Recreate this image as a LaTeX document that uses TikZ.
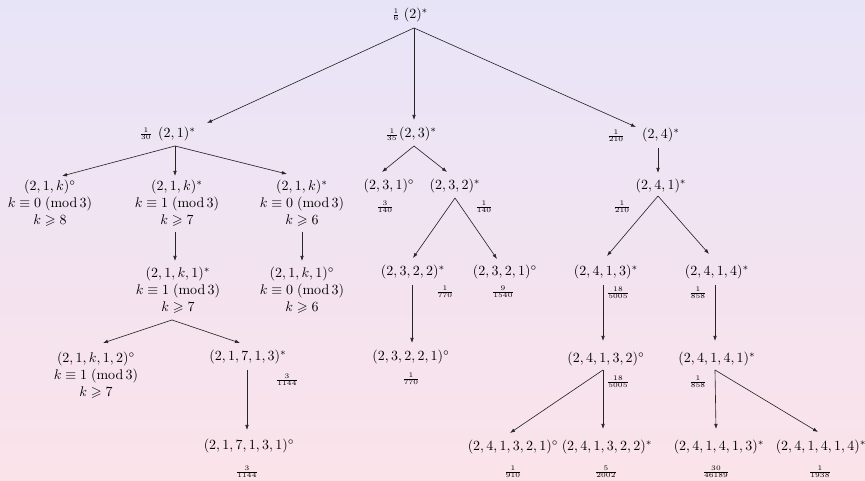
\documentclass[tikz,border=0pt]{standalone}
\usepackage{amsmath,amssymb}
\usetikzlibrary{arrows.meta}
\definecolor{bgtop}{RGB}{232,228,248}
\definecolor{bgbot}{RGB}{251,227,234}
\newcommand{\myfr}[2]{$\scriptstyle\frac{#1}{#2}$}
\newcommand{\md}[1]{\;(\mathrm{mod}\,#1)}
\begin{document}
\begin{tikzpicture}[x=0.714pt,y=-0.714pt,
  tn/.style={inner sep=0pt,align=center},
  fr/.style={inner sep=0pt},
  arr/.style={-{Latex[length=3.6pt,width=2.6pt]},line width=0.45pt,draw=black!85}]
\shade[top color=bgtop,bottom color=bgbot] (0,0) rectangle (865,481);
\useasboundingbox (0,0) rectangle (865,481);
% root
\node[tn] (root) at (416,15) {$(2)^*$};
\node[fr] (froot) at (396,15) {\myfr{1}{6}};
% level 1
\node[tn] (n21) at (177,134) {$(2,1)^*$};
\node[fr] (f21) at (146,134) {\myfr{1}{30}};
\node[tn] (n23) at (418,134) {$(2,3)^*$};
\node[fr] (f23) at (392,135) {\myfr{1}{35}};
\node[tn] (n24) at (661,135) {$(2,4)^*$};
\node[fr] (f24) at (616,136) {\myfr{1}{210}};
% left subtree
\node[tn] (n21ka) at (50,203) {$(2,1,k)^\circ$\\$k\equiv 0\md{3}$\\$k\geqslant 8$};
\node[tn] (n21kb) at (177,203) {$(2,1,k)^*$\\$k\equiv 1\md{3}$\\$k\geqslant 7$};
\node[tn] (n21kc) at (302,203) {$(2,1,k)^*$\\$k\equiv 0\md{3}$\\$k\geqslant 6$};
\node[tn] (n21k1a) at (178,290) {$(2,1,k,1)^*$\\$k\equiv 1\md{3}$\\$k\geqslant 7$};
\node[tn] (n21k1b) at (302,290) {$(2,1,k,1)^\circ$\\$k\equiv 0\md{3}$\\$k\geqslant 6$};
\node[tn] (n21k12) at (96,375) {$(2,1,k,1,2)^\circ$\\$k\equiv 1\md{3}$\\$k\geqslant 7$};
\node[tn] (n21713) at (248,357) {$(2,1,7,1,3)^*$};
\node[fr] (f21713) at (287,380) {\myfr{3}{1144}};
\node[tn] (n217131) at (249,446) {$(2,1,7,1,3,1)^\circ$};
\node[fr] (f217131) at (247,472) {\myfr{3}{1144}};
% middle subtree
\node[tn] (n231) at (389,186) {$(2,3,1)^\circ$};
\node[fr] (f231) at (385,207) {\myfr{3}{140}};
\node[tn] (n232) at (455,186) {$(2,3,2)^*$};
\node[fr] (f232) at (484,207) {\myfr{1}{140}};
\node[tn] (n2322) at (413,272) {$(2,3,2,2)^*$};
\node[fr] (f2322) at (445,292) {\myfr{1}{770}};
\node[tn] (n2321) at (505,272) {$(2,3,2,1)^\circ$};
\node[fr] (f2321) at (503,292) {\myfr{9}{1540}};
\node[tn] (n23221) at (411,357) {$(2,3,2,2,1)^\circ$};
\node[fr] (f23221) at (411,379) {\myfr{1}{770}};
% right subtree
\node[tn] (n241) at (661,186) {$(2,4,1)^*$};
\node[fr] (f241) at (622,207) {\myfr{1}{210}};
\node[tn] (n2413) at (606,272) {$(2,4,1,3)^*$};
\node[fr] (f2413) at (618,293) {\myfr{18}{5005}};
\node[tn] (n2414) at (717,272) {$(2,4,1,4)^*$};
\node[fr] (f2414) at (698,293) {\myfr{1}{858}};
\node[tn] (n24132) at (606,359) {$(2,4,1,3,2)^\circ$};
\node[fr] (f24132) at (618,382) {\myfr{18}{5005}};
\node[tn] (n24141) at (717,359) {$(2,4,1,4,1)^*$};
\node[fr] (f24141) at (698,382) {\myfr{1}{858}};
\node[tn] (n241321) at (513,447) {$(2,4,1,3,2,1)^\circ$};
\node[fr] (f241321) at (513,472) {\myfr{1}{910}};
\node[tn] (n241322) at (607,447) {$(2,4,1,3,2,2)^*$};
\node[fr] (f241322) at (606,472) {\myfr{5}{2002}};
\node[tn] (n241413) at (719,447) {$(2,4,1,4,1,3)^*$};
\node[fr] (f241413) at (716,472) {\myfr{30}{46189}};
\node[tn] (n241414) at (821,447) {$(2,4,1,4,1,4)^*$};
\node[fr] (f241414) at (820,472) {\myfr{1}{1938}};
% connectors
\draw[arr] ([shift={(-2,13)}]root.center) -- ([shift={(30,-11)}]n21.center);
\draw[arr] ([shift={(-2,13)}]root.center) -- ([shift={(-4,-14)}]n23.center);
\draw[arr] ([shift={(-2,13)}]root.center) -- ([shift={(-25,-8)}]n24.center);
\draw[arr] ([shift={(-2,12)}]n21.center) -- ([shift={(12,-27)}]n21ka.center);
\draw[arr] ([shift={(-2,12)}]n21.center) -- ([shift={(-2,-27)}]n21kb.center);
\draw[arr] ([shift={(-2,12)}]n21.center) -- ([shift={(-15,-29)}]n21kc.center);
\draw[arr] ([shift={(-2,29)}]n21kb.center) -- ([shift={(-3,-29)}]n21k1a.center);
\draw[arr] ([shift={(0,29)}]n21kc.center) -- ([shift={(0,-29)}]n21k1b.center);
\draw[arr] ([shift={(-6,30)}]n21k1a.center) -- ([shift={(7,-32)}]n21k12.center);
\draw[arr] ([shift={(-6,30)}]n21k1a.center) -- ([shift={(-8,-14)}]n21713.center);
\draw[arr] ([shift={(-1,13)}]n21713.center) -- ([shift={(-2,-16)}]n217131.center);
\draw[arr] ([shift={(-4,12)}]n23.center) -- ([shift={(-7,-14)}]n231.center);
\draw[arr] ([shift={(-4,12)}]n23.center) -- ([shift={(-8,-14)}]n232.center);
\draw[arr] ([shift={(0,12)}]n232.center) -- ([shift={(0,-14)}]n2322.center);
\draw[arr] ([shift={(0,12)}]n232.center) -- ([shift={(-8,-13)}]n2321.center);
\draw[arr] ([shift={(-1,13)}]n2322.center) -- ([shift={(1,-14)}]n23221.center);
\draw[arr] ([shift={(-3,13)}]n24.center) -- ([shift={(-3,-13)}]n241.center);
\draw[arr] ([shift={(-3,10)}]n241.center) -- ([shift={(1,-16)}]n2413.center);
\draw[arr] ([shift={(-3,10)}]n241.center) -- ([shift={(-8,-18)}]n2414.center);
\draw[arr] ([shift={(-3,13)}]n2413.center) -- ([shift={(-3,-18)}]n24132.center);
\draw[arr] ([shift={(-2,13)}]n2414.center) -- ([shift={(-2,-18)}]n24141.center);
\draw[arr] ([shift={(-3,11)}]n24132.center) -- ([shift={(-3,-14)}]n241321.center);
\draw[arr] ([shift={(-3,11)}]n24132.center) -- ([shift={(-4,-18)}]n241322.center);
\draw[arr] ([shift={(-2,11)}]n24141.center) -- ([shift={(-3,-18)}]n241413.center);
\draw[arr] ([shift={(-2,11)}]n24141.center) -- ([shift={(-3,-15)}]n241414.center);
\end{tikzpicture}
\end{document}
